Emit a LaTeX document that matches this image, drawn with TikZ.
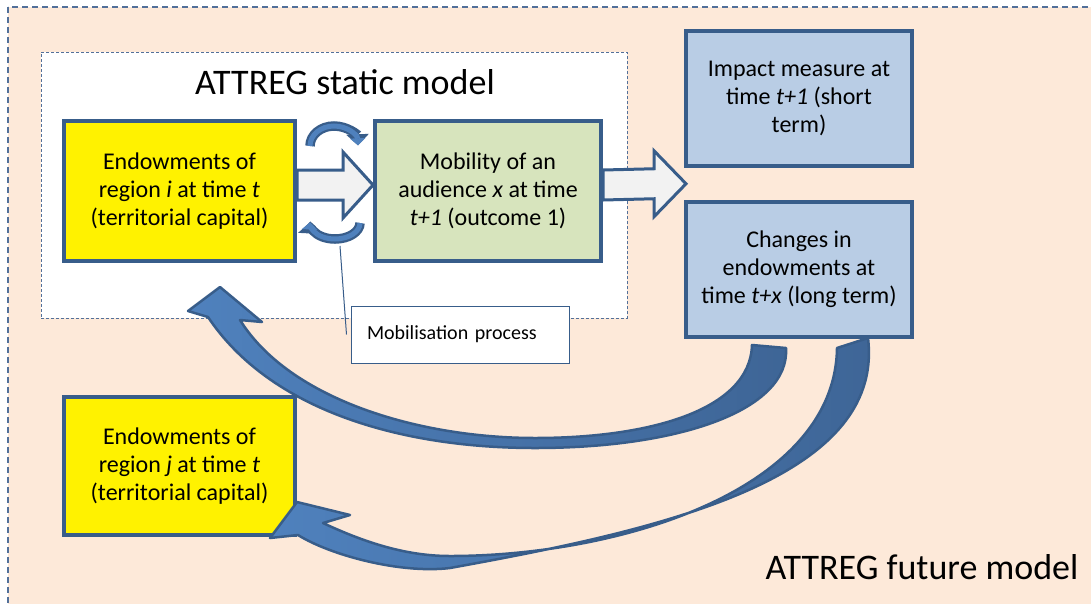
\documentclass[tikz,border=0pt]{standalone}
\usepackage{fontspec}
\setmainfont{Carlito}
\usetikzlibrary{arrows.meta}
\usetikzlibrary{calc}

\definecolor{boxblue}{HTML}{385D8A}
\definecolor{dashblue}{HTML}{52709A}
\definecolor{peach}{HTML}{FDE9D9}
\definecolor{mobgreen}{HTML}{D7E4BD}
\definecolor{impactblue}{HTML}{B9CDE5}
\definecolor{arrowblue}{HTML}{4F81BD}
\definecolor{arrowdark}{HTML}{3E6596}
\definecolor{blockgray}{HTML}{F2F2F2}

\pgfdeclarelayer{back}
\pgfdeclarelayer{mid}
\pgfsetlayers{back,mid,main}

\tikzset{
  box/.style={draw=boxblue, line width=4pt, align=center, inner sep=0pt,
    font=\fontsize{24}{28}\selectfont},
  regionbox/.style={box, fill=yellow, minimum width=231, minimum height=140},
  blockarr/.style={draw=boxblue, line width=3pt, fill=blockgray, line join=miter},
  bigarr/.style={draw=boxblue, line width=2.5pt, left color=arrowblue, right color=arrowdark, line join=round},
  circarr/.style={draw=boxblue, line width=9.5pt, -{Triangle[length=11pt,width=22pt]}},
  circarrin/.style={draw=arrowblue, line width=5pt, -{Triangle[length=7pt,width=15pt]}},
  callout/.style={draw=boxblue, line width=1pt, fill=white, text width=186, align=left,
    inner xsep=16, minimum height=57, font=\fontsize{20}{24}\selectfont},
  title/.style={font=\fontsize{36}{40}\selectfont}
}

\begin{document}
\begin{tikzpicture}[x=1pt,y=-1pt]
\useasboundingbox (0,0) rectangle (1091,603);
\clip (0,0) rectangle (1091,603);
\begin{pgfonlayer}{back}
% future model frame
\draw[dashblue, fill=peach, line width=1.5pt, dash pattern=on 6pt off 4pt] (8,7) rectangle (1110,620);
% static model frame
\node[draw=dashblue, fill=white, line width=1pt, dash pattern=on 3pt off 2pt,
  minimum width=586, minimum height=266, inner sep=0pt] (static) at (334,185) {};
\end{pgfonlayer}
\node[title] (statictitle) at (345,82) {ATTREG static model};

\node[regionbox] (endowi) at (179.5,191) {Endowments of\\region \textit{i} at time \textit{t}\\(territorial capital)};
\node[box, fill=mobgreen, minimum width=226, minimum height=140] (mobility) at (488,191) {Mobility of an\\audience \textit{x} at time\\\textit{t+1} (outcome 1)};
\node[box, fill=impactblue, minimum width=226, minimum height=135] (impact) at (799,98.5) {Impact measure at\\time \textit{t+1} (short\\term)};
\node[box, fill=impactblue, minimum width=226, minimum height=135] (changes) at (799,269) {Changes in\\endowments at\\time \textit{t+x} (long term)};
\node[regionbox, minimum height=138] (endowj) at (179.5,466) {Endowments of\\region \textit{j} at time \textit{t}\\(territorial capital)};

% block arrows
\begin{pgfonlayer}{mid}
\draw[blockarr] ($(endowi.east)+(0,-21)$) -- ($(mobility.west)+(-30,-21)$) -- ($(mobility.west)+(-30,-39)$)
  -- ($(mobility.west)+(0,-6)$) -- ($(mobility.west)+(-30,27)$) -- ($(mobility.west)+(-30,9)$)
  -- ($(endowi.east)+(0,9)$) -- cycle;
\coordinate (gap) at ($(impact.south west)!0.5!(changes.north west)$);
\draw[blockarr] ($(mobility.east)+(0,-21)$) -- ($(gap)+(-30,-15)$) -- ($(gap)+(-30,-33)$)
  -- ($(gap)+(2,0)$) -- ($(gap)+(-30,33)$) -- ($(gap)+(-30,15)$)
  -- ($(mobility.east)+(0,9)$) -- cycle;
\end{pgfonlayer}

% mobilisation cycle
\draw[circarr] (310,146) arc[start angle=180, end angle=358, x radius=24, y radius=20];
\draw[circarrin] (310,146) arc[start angle=180, end angle=358, x radius=24, y radius=20];
\draw[circarr] (360,223) arc[start angle=0, end angle=182, x radius=25, y radius=16];
\draw[circarrin] (360,223) arc[start angle=0, end angle=182, x radius=25, y radius=16];

\coordinate (cyclebottom) at (340,246);
\node[callout] (mob) at (460,334.5) {Mobilisation process};
\draw[boxblue, line width=1pt] (cyclebottom) -- ([xshift=-4pt]mob.west);

% feedback to region i
\draw[bigarr] (786,348) .. controls (790,410) and (680,448) .. (535,448)
  .. controls (400,448) and (270,410) .. (208,317)
  -- (188,311) -- (220,287) -- (262,322) -- (240,320)
  .. controls (290,400) and (420,438) .. (535,438)
  .. controls (650,438) and (750,410) .. (752,345) -- cycle;
% feedback to region j
\draw[bigarr] (868,338) .. controls (885,480) and (660,530) .. (450,568)
  .. controls (400,574) and (330,555) .. (298,535)
  -- (270,538) -- (297,502) -- (350,515) -- (323,523)
  .. controls (370,545) and (410,556) .. (450,556)
  .. controls (620,556) and (835,490) .. (837,348) -- cycle;

\node[title, anchor=east] (futuretitle) at (1082,567) {ATTREG future model};
\end{tikzpicture}
\end{document}
